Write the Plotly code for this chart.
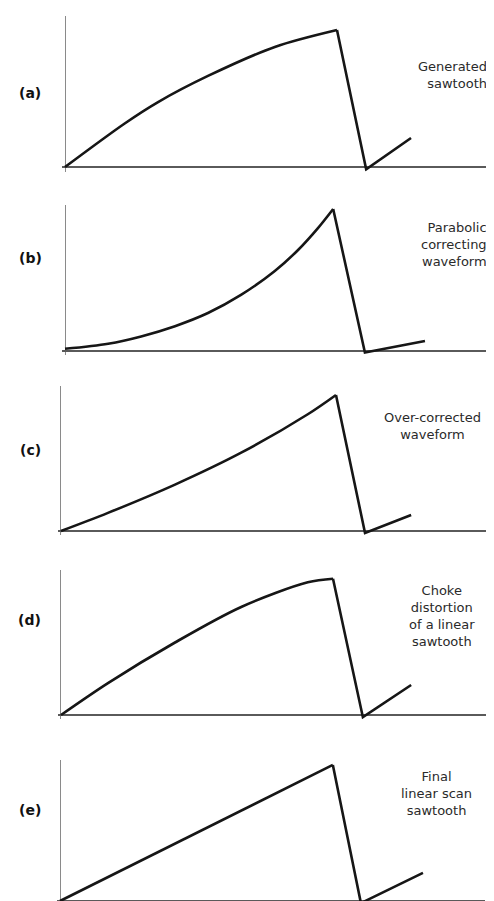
import plotly.graph_objects as go

W, H = 494, 901

# ---- data (time 0..100 along the scan axis, amplitude 0..100) ----
panel_labels = ["(a)", "(b)", "(c)", "(d)", "(e)"]
captions = [
    ["Generated", "sawtooth"],
    ["Parabolic", "correcting", "waveform"],
    ["Over-corrected", "waveform"],
    ["Choke", "distortion", "of a linear", "sawtooth"],
    ["Final", "linear scan", "sawtooth"],
]

# (a) generated sawtooth - scan portion then flyback
rise_t_a = [0, 14.2, 22.0, 33.8, 49.6, 64.3]
rise_v_a = [0, 29.0, 43.0, 60.3, 79.5, 90.7]
fly_t_a = [71.2, 81.8]
fly_v_a = [-1.5, 19.2]

# (b) parabolic correcting waveform
rise_t_b = [0, 10.2, 18.0, 26.0, 33.8, 41.6, 49.6, 55.1, 59.8, 63.4]
rise_v_b = [1.5, 5.0, 10.0, 17.0, 26.0, 38.4, 54.8, 69.2, 84.2, 97.3]
fly_t_b = [70.9, 85.1]
fly_v_b = [-1.0, 6.8]

# (c) over-corrected waveform
rise_t_c = [0, 11.0, 26.7, 42.2, 57.8, 64.4]
rise_v_c = [0, 12.5, 32.0, 54.0, 80.5, 93.8]
fly_t_c = [71.2, 82.0]
fly_v_c = [-1.4, 11.0]

# (d) choke distortion of a linear sawtooth
rise_t_d = [0, 11.0, 26.7, 42.2, 57.8, 63.7]
rise_v_d = [0, 22.0, 50.0, 74.5, 91.5, 94.0]
fly_t_d = [70.7, 82.0]
fly_v_d = [-1.5, 20.7]

# (e) final linear scan sawtooth
rise_t_e = [0, 64.2]
rise_v_e = [0, 96.5]
fly_t_e = [70.8, 85.4]
fly_v_e = [-1.5, 19.9]

rises = [(rise_t_a, rise_v_a), (rise_t_b, rise_v_b), (rise_t_c, rise_v_c),
         (rise_t_d, rise_v_d), (rise_t_e, rise_v_e)]
flys = [(fly_t_a, fly_v_a), (fly_t_b, fly_v_b), (fly_t_c, fly_v_c),
        (fly_t_d, fly_v_d), (fly_t_e, fly_v_e)]

# ---- layout geometry (pixels): x of t=0, x of t=100, y of v=0, y of v=100 ----
geom = [
    (57, 480, 159, 8),
    (57, 480, 343, 197),
    (53, 480, 523, 378),
    (53, 480, 707, 562),
    (52, 477, 893, 752),
]
label_pos = [(22, 85), (22, 250), (22, 442), (21, 612), (22, 802)]
# caption block: x, y (centre), x anchor / alignment
caption_pos = [
    (481, 67, "right"),
    (481, 237, "right"),
    (424, 418, "center"),
    (434, 608, "center"),
    (428, 785, "center"),
]

T_MIN, T_MAX = -0.6, 100
V_MIN, V_MAX = -3, 100

fig = go.Figure()
layout = dict(
    width=W, height=H, margin=dict(l=0, r=0, t=0, b=0),
    paper_bgcolor="white", plot_bgcolor="white", showlegend=False,
    annotations=[],
)

line_color = "#161616"
for i in range(5):
    n = "" if i == 0 else str(i + 1)
    x0, x1, y0, y1 = geom[i]
    sx = (x1 - x0) / 100.0
    sy = (y0 - y1) / 100.0
    left = x0 + T_MIN * sx
    bottom = y0 - V_MIN * sy
    layout["xaxis" + n] = dict(
        domain=[left / W, x1 / W], range=[T_MIN, T_MAX], anchor="y" + n,
        showgrid=False, showticklabels=False, ticks="", showline=False,
        zeroline=True, zerolinecolor="#8a8a8a", zerolinewidth=1.3, fixedrange=True,
    )
    layout["yaxis" + n] = dict(
        domain=[1 - bottom / H, 1 - y1 / H], range=[V_MIN, V_MAX], anchor="x" + n,
        showgrid=False, showticklabels=False, ticks="", showline=False,
        zeroline=True, zerolinecolor="#5a5a5a", zerolinewidth=1.6, fixedrange=True,
    )
    rt, rv = rises[i]
    ft, fv = flys[i]
    fig.add_trace(go.Scatter(
        x=rt, y=rv, mode="lines", xaxis="x" + n, yaxis="y" + n,
        line=dict(color=line_color, width=2.6, shape="spline", smoothing=0.9),
        hoverinfo="skip",
    ))
    fig.add_trace(go.Scatter(
        x=[rt[-1]] + ft, y=[rv[-1]] + fv, mode="lines", xaxis="x" + n, yaxis="y" + n,
        line=dict(color=line_color, width=2.6), hoverinfo="skip",
    ))
    lx, ly = label_pos[i]
    layout["annotations"].append(dict(
        text="<b>" + panel_labels[i] + "</b>", x=lx / W, y=1 - ly / H,
        xref="paper", yref="paper", xanchor="center", yanchor="middle",
        showarrow=False, font=dict(family="DejaVu Sans", size=14, color="#111111"),
    ))
    cx, cy, anc = caption_pos[i]
    layout["annotations"].append(dict(
        text="<br>".join(captions[i]), x=cx / W, y=1 - cy / H,
        xref="paper", yref="paper", xanchor=anc, yanchor="middle", align=anc,
        showarrow=False, font=dict(family="DejaVu Sans", size=13, color="#2a2a2a"),
    ))

fig.update_layout(**layout)
fig.write_html("out.html")
